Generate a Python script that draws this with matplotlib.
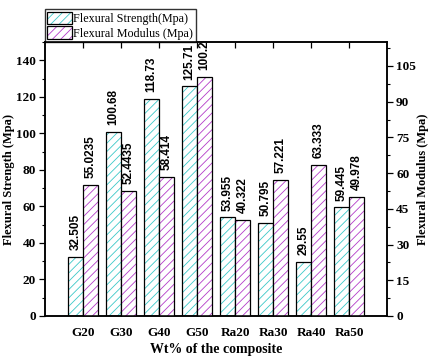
import matplotlib
matplotlib.use("Agg")
import matplotlib.pyplot as plt
import matplotlib.transforms as mtransforms
import numpy as np
from matplotlib.legend_handler import HandlerTuple
from matplotlib.ticker import MultipleLocator

# Data
composites = ["G20", "G30", "G40", "G50", "Ra20", "Ra30", "Ra40", "Ra50"]
strength = [32.505, 100.68, 118.73, 125.71, 53.955, 50.795, 29.55, 59.445]
modulus = [55.0235, 52.4435, 58.414, 100.25, 40.322, 57.221, 63.333, 49.978]

plt.rcParams["hatch.linewidth"] = 0.6
serif = ["Liberation Serif", "DejaVu Serif"]
sans = ["Liberation Sans", "DejaVu Sans"]

cyan = "#3cc8c8"
purple = "#b43cc8"

fig = plt.figure(figsize=(4.31, 3.63), dpi=100)
ax = fig.add_axes([0.1044, 0.1295, 0.7936, 0.7545])
ax2 = ax.twinx()

x = np.arange(1, len(composites) + 1)
w = 0.4

# hatch layer in colour, then black outline on top
s_hatch = ax.bar(x - w / 2, strength, w, color="white", edgecolor=cyan,
                 hatch="////", linewidth=0)
s_edge = ax.bar(x - w / 2, strength, w, fill=False, edgecolor="black",
                linewidth=0.9)
m_hatch = ax2.bar(x + w / 2, modulus, w, color="white", edgecolor=purple,
                  hatch="////", linewidth=0)
m_edge = ax2.bar(x + w / 2, modulus, w, fill=False, edgecolor="black",
                 linewidth=0.9)


def value_labels(a, xs, vals):
    tr = mtransforms.offset_copy(a.transData, fig=fig, x=0, y=5, units="points")
    for xi, v in zip(xs, vals):
        t = a.text(xi, v, str(v), transform=tr, rotation=90, ha="center",
                   va="bottom", fontsize=8.5, fontweight="bold", family=sans)
        t.set_clip_on(True)
        t.set_clip_box(a.bbox)


value_labels(ax, x - w / 2, strength)
value_labels(ax2, x + w / 2, modulus)

ax.set_xlim(0, 9)
ax.set_ylim(0, 150)
ax2.set_ylim(0, 115)

ax.set_xticks(x)
ax.set_xticklabels(composites)
ax.yaxis.set_major_locator(MultipleLocator(20))
ax.yaxis.set_minor_locator(MultipleLocator(10))
ax2.yaxis.set_major_locator(MultipleLocator(15))
ax2.yaxis.set_minor_locator(MultipleLocator(7.5))

ax.tick_params(axis="x", which="major", direction="in", length=4, width=0.9,
               top=True, labelsize=9.5, pad=8)
ax.tick_params(axis="y", which="major", direction="out", length=4, width=0.9,
               labelsize=9.5, pad=2.5)
ax.tick_params(axis="y", which="minor", direction="out", length=2.5, width=0.8)
ax2.tick_params(axis="y", which="major", direction="out", length=4, width=0.9,
                labelsize=9.5, pad=2.5)
ax2.tick_params(axis="y", which="minor", direction="out", length=2.5, width=0.8)

for a in (ax, ax2):
    for lab in a.get_xticklabels() + a.get_yticklabels():
        lab.set_fontweight("bold")
        lab.set_family(serif)
    for sp in a.spines.values():
        sp.set_linewidth(1.1)

ax.set_xlabel("Wt% of the composite", fontsize=10, fontweight="bold",
              family=serif, labelpad=3)
ax.set_ylabel("Flexural Strength (Mpa)", fontsize=9, fontweight="bold",
              family=serif, labelpad=1)
ax2.set_ylabel("Flexural Modulus (Mpa)", fontsize=9, fontweight="bold",
               family=serif, labelpad=1)

leg = ax.legend([(s_hatch[0], s_edge[0]), (m_hatch[0], m_edge[0])],
                ["Flexural Strength(Mpa)", "Flexural Modulus (Mpa)"],
                handler_map={tuple: HandlerTuple(ndivide=1)},
                loc="lower left", bbox_to_anchor=(0.0, 1.0),
                prop={"family": serif, "size": 8.7}, frameon=True,
                fancybox=False, borderpad=0.2, borderaxespad=0,
                handlelength=2.0, handleheight=1.25, handletextpad=0.15,
                labelspacing=0.1)
leg.get_frame().set_edgecolor("black")
leg.get_frame().set_linewidth(1.0)

fig.savefig("out.png", dpi=100)
